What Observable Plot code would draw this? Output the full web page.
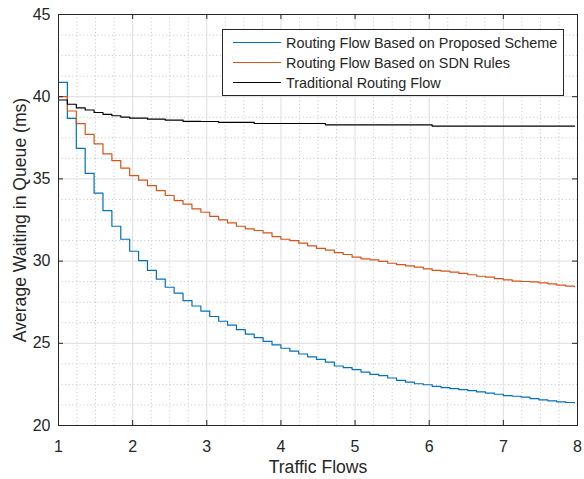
<!DOCTYPE html>
<html><head><meta charset="utf-8">
<script src="https://cdn.jsdelivr.net/npm/d3@7"></script>
<script src="https://cdn.jsdelivr.net/npm/@observablehq/plot@0.6"></script>
<style>body{margin:0;background:#fff;} #chart svg{display:block;}</style>
</head><body><div id="chart"></div>
<script>
// x positions: one step every 0.12 flows, starting at 1
const xStart = 1, xStep = 0.12;
const proposed = [40.87,38.68,36.86,35.34,34.13,33.07,32.12,31.33,30.60,30.03,
  29.43,28.90,28.41,28.05,27.59,27.27,26.96,26.63,26.34,26.10,
  25.83,25.56,25.34,25.12,24.90,24.70,24.52,24.35,24.18,24.02,
  23.86,23.62,23.52,23.40,23.25,23.11,23.03,22.89,22.75,22.64,
  22.54,22.48,22.38,22.30,22.24,22.18,22.12,22.04,21.97,21.90,
  21.82,21.78,21.72,21.64,21.56,21.50,21.44,21.40,21.38];
const sdnRules = [40.00,39.13,38.36,37.71,37.13,36.52,36.11,35.66,35.20,34.92,
  34.59,34.29,33.99,33.68,33.46,33.18,32.97,32.72,32.51,32.32,
  32.12,31.96,31.86,31.72,31.49,31.33,31.25,31.09,30.93,30.78,
  30.67,30.52,30.40,30.24,30.14,30.08,29.98,29.87,29.79,29.71,
  29.63,29.53,29.43,29.39,29.33,29.25,29.17,29.08,29.02,28.93,
  28.86,28.78,28.76,28.74,28.68,28.62,28.54,28.48,28.45];
const traditional = [39.80,39.54,39.32,39.19,39.04,38.93,38.84,38.76,38.70,38.70,
  38.63,38.63,38.57,38.57,38.50,38.50,38.49,38.49,38.44,38.44,
  38.44,38.44,38.37,38.37,38.37,38.37,38.37,38.37,38.37,38.37,
  38.29,38.29,38.29,38.29,38.29,38.29,38.29,38.29,38.29,38.29,
  38.29,38.29,38.21,38.21,38.21,38.21,38.21,38.21,38.21,38.21,
  38.21,38.21,38.21,38.21,38.21,38.21,38.21,38.21,38.21];
const seriesNames = ["Routing Flow Based on Proposed Scheme","Routing Flow Based on SDN Rules","Traditional Routing Flow"];
const seriesColors = ["#0072BD","#D95319","#000000"];
const xTicks = [1,2,3,4,5,6,7,8];
const yTicks = [20,25,30,35,40,45];
const xMinor = d3.range(1, 8.001, 0.25).filter(v => Math.abs(v - Math.round(v)) > 1e-6);
const yMinor = d3.range(20, 45.001, 1.25).filter(v => Math.abs(v/5 - Math.round(v/5)) > 1e-6);

const seriesValues = [proposed, sdnRules, traditional];
const rows = [];
seriesValues.forEach((vals, s) => vals.forEach((v, i) => rows.push({x: xStart + xStep*i, y: v, series: seriesNames[s]})));

const W = 584, H = 479, mL = 58, mR = 7, mT = 14, mB = 54;
const pw = W - mL - mR, ph = H - mT - mB, tk = 5;
const ink = "#262626";
const font = "'Liberation Sans', Arial, Helvetica, sans-serif";

const chart = Plot.plot({
  width: W, height: H,
  marginLeft: mL, marginRight: mR, marginTop: mT, marginBottom: mB,
  style: {fontFamily: font, fontSize: "16px", color: ink, background: "#fff"},
  x: {domain: [1, 8], label: null},
  y: {domain: [20, 45], label: null},
  color: {domain: seriesNames, range: seriesColors},
  marks: [
    Plot.ruleX(xMinor, {stroke: "#b4b4b4", strokeDasharray: "1,2.6", strokeWidth: 0.8}),
    Plot.ruleY(yMinor, {stroke: "#b4b4b4", strokeDasharray: "1,2.6", strokeWidth: 0.8}),
    Plot.ruleX(xTicks, {stroke: "#dedede", strokeWidth: 1}),
    Plot.ruleY(yTicks, {stroke: "#dedede", strokeWidth: 1}),
    Plot.line(rows, {x: "x", y: "y", z: "series", stroke: "series", curve: "step-after", strokeWidth: 1.2}),
    Plot.frame({stroke: ink, strokeWidth: 1}),
    Plot.ruleX(xTicks, {stroke: ink, insetTop: ph - tk}),
    Plot.ruleX(xTicks, {stroke: ink, insetBottom: ph - tk}),
    Plot.ruleY(yTicks, {stroke: ink, insetRight: pw - tk}),
    Plot.ruleY(yTicks, {stroke: ink, insetLeft: pw - tk}),
    Plot.axisX(xTicks, {tickSize: 0, tickPadding: 15, label: null, fontSize: 16, fill: ink}),
    Plot.axisY(yTicks, {tickSize: 0, tickPadding: 8, label: null, fontSize: 16, fill: ink}),
    Plot.text(["Traffic Flows"], {frameAnchor: "bottom", dy: 42, lineAnchor: "middle", textAnchor: "middle", fontSize: 17.6, fill: ink}),
    Plot.text(["Average Waiting in Queue (ms)"], {frameAnchor: "left", dx: -38, rotate: -90, textAnchor: "middle", lineAnchor: "middle", fontSize: 17.6, fill: ink})
  ]
});
document.getElementById("chart").appendChild(chart);

// legend box inside the axes (north-east)
const svg = d3.select(chart);
const lg = svg.append("g").attr("font-family", font).attr("font-size", 14.4).attr("text-anchor", "start");
lg.append("rect").attr("x", 222.5).attr("y", 29.5).attr("width", 341).attr("height", 66)
  .attr("fill", "#fff").attr("stroke", ink).attr("stroke-width", 1);
seriesNames.forEach((name, i) => {
  const cy = 42.5 + i * 20;
  lg.append("line").attr("x1", 233).attr("x2", 281).attr("y1", cy).attr("y2", cy)
    .attr("stroke", seriesColors[i]).attr("stroke-width", 1.2);
  lg.append("text").attr("x", 286).attr("y", cy).attr("dy", "0.35em").attr("text-anchor", "start").attr("fill", ink).text(name);
});
</script>
</body></html>
